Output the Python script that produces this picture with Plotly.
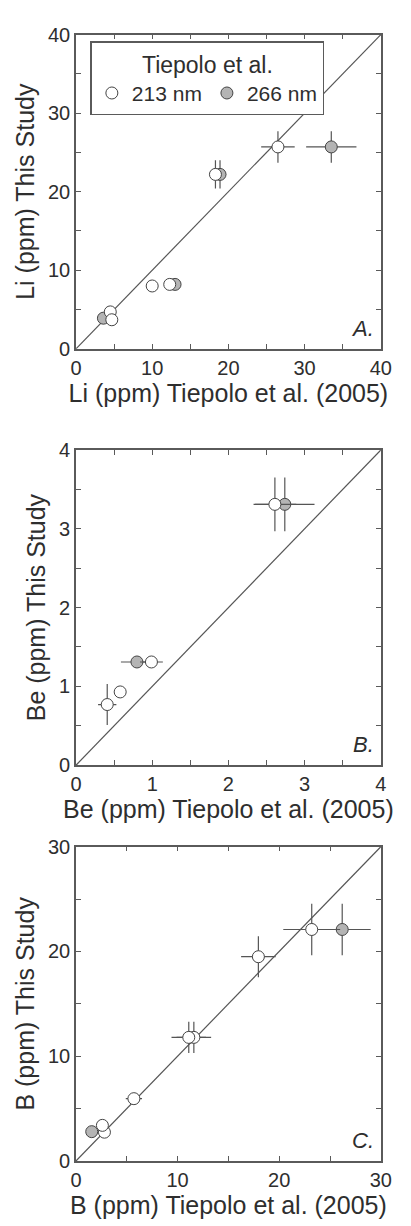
import plotly.graph_objects as go

# ---------------- data ----------------
# Panel A: Li (ppm)
li_213_x = [4.5, 4.7, 10.0, 12.3, 18.3, 26.5]
li_213_y = [4.7, 3.7, 8.0, 8.2, 22.2, 25.7]
li_213_ex = [0, 0, 0, 0, 0.8, 2.2]
li_213_ey = [0, 0, 0, 0, 1.8, 2.0]
li_266_x = [3.6, 13.0, 18.9, 33.5]
li_266_y = [3.9, 8.2, 22.2, 25.7]
li_266_ex = [0, 0, 0.8, 3.3]
li_266_ey = [0, 0, 1.8, 2.0]

# Panel B: Be (ppm)
be_213_x = [0.41, 0.58, 0.99, 2.61]
be_213_y = [0.77, 0.93, 1.31, 3.31]
be_213_ex = [0.12, 0, 0.15, 0.28]
be_213_ey = [0.26, 0, 0, 0.34]
be_266_x = [0.80, 2.74]
be_266_y = [1.31, 3.31]
be_266_ex = [0.21, 0.39]
be_266_ey = [0, 0.34]

# Panel C: B (ppm)
b_213_x = [2.8, 2.6, 5.7, 11.6, 11.1, 17.95, 23.2]
b_213_y = [2.75, 3.4, 5.95, 11.8, 11.8, 19.5, 22.1]
b_213_ex = [0, 0, 0.8, 1.7, 1.7, 1.7, 2.8]
b_213_ey = [0, 0, 0, 1.5, 1.5, 1.95, 2.45]
b_266_x = [1.55, 26.2]
b_266_y = [2.8, 22.1]
b_266_ex = [0, 2.8]
b_266_ey = [0, 2.45]

panels = [
    ("Li", 40, 10, 5, "A.", li_213_x, li_213_y, li_213_ex, li_213_ey,
     li_266_x, li_266_y, li_266_ex, li_266_ey),
    ("Be", 4, 1, 0.5, "B.", be_213_x, be_213_y, be_213_ex, be_213_ey,
     be_266_x, be_266_y, be_266_ex, be_266_ey),
    ("B", 30, 10, 5, "C.", b_213_x, b_213_y, b_213_ex, b_213_ey,
     b_266_x, b_266_y, b_266_ex, b_266_ey),
]
legend_labels = ["213 nm", "266 nm"]
legend_title = "Tiepolo et al."

# ---------------- style ----------------
W, H = 411, 1226
FONT = "Liberation Sans, Arial, Helvetica, sans-serif"
TXT = "#2e2e2e"
AX = "#5a5a5a"
ERR = "#555555"
EDGE = "#444444"
GRAY = "#b4b4b4"
MS = 12

# pixel boxes (top, bottom) for each panel; x from 73 to 391
xl, xr = 73, 391
boxes = [(24, 344), (447, 768), (851, 1171)]

fig = go.Figure()
layout = dict(
    width=W, height=H, margin=dict(l=0, r=0, t=0, b=0),
    paper_bgcolor="white", plot_bgcolor="white",
    font=dict(family=FONT, color=TXT, size=20),
    showlegend=True,
)
annotations = []

for i, (el, vmax, dt, mdt, tag, ox, oy, oex, oey, gx, gy, gex, gey) in enumerate(panels):
    n = "" if i == 0 else str(i + 1)
    xa, ya = "x" + n, "y" + n
    top, bot = boxes[i]
    ydom = [1 - bot / H, 1 - top / H]
    xdom = [xl / W, xr / W]
    axis_common = dict(
        range=[0, vmax], dtick=dt, showline=True, linecolor=AX, linewidth=1.5,
        mirror="ticks", ticks="inside", ticklen=5, tickwidth=1.2, tickcolor=AX,
        minor=dict(dtick=mdt, ticks="inside", ticklen=5, tickwidth=1.2, tickcolor=AX),
        showgrid=False, zeroline=False, tickfont=dict(size=20, color=TXT),
        fixedrange=True,
    )
    layout["xaxis" + n] = dict(axis_common, domain=xdom, anchor=ya,
                               title=dict(text=f"{el} (ppm) Tiepolo et al. (2005)",
                                          font=dict(size=25), standoff=4))
    layout["yaxis" + n] = dict(axis_common, domain=ydom, anchor=xa,
                               title=dict(text=f"{el} (ppm) This Study",
                                          font=dict(size=25), standoff=6))
    # 1:1 line
    fig.add_trace(go.Scatter(x=[0, vmax], y=[0, vmax], mode="lines",
                             line=dict(color=ERR, width=1.2), xaxis=xa, yaxis=ya,
                             showlegend=False, hoverinfo="skip"))
    # 266 nm (gray)
    fig.add_trace(go.Scatter(
        x=gx, y=gy, mode="markers", xaxis=xa, yaxis=ya,
        name=legend_labels[1], legendgroup="266", showlegend=(i == 0), legendrank=2,
        marker=dict(size=MS, color=GRAY, line=dict(color=EDGE, width=1)),
        error_x=dict(type="data", array=gex, width=0, color=ERR, thickness=1.2),
        error_y=dict(type="data", array=gey, width=0, color=ERR, thickness=1.2),
    ))
    # 213 nm (open)
    fig.add_trace(go.Scatter(
        x=ox, y=oy, mode="markers", xaxis=xa, yaxis=ya,
        name=legend_labels[0], legendgroup="213", showlegend=(i == 0), legendrank=1,
        marker=dict(size=MS, color="white", line=dict(color=EDGE, width=1)),
        error_x=dict(type="data", array=oex, width=0, color=ERR, thickness=1.2),
        error_y=dict(type="data", array=oey, width=0, color=ERR, thickness=1.2),
    ))
    annotations.append(dict(
        text=f"<i>{tag}</i>", xref=xa + " domain", yref=ya + " domain",
        x=0.985, y=0.02, xanchor="right", yanchor="bottom", showarrow=False,
        font=dict(size=22, color=TXT)))

layout["legend"] = dict(
    x=88 / W, y=1 - 31 / H, xanchor="left", yanchor="top",
    orientation="h", bgcolor="white", bordercolor=AX, borderwidth=1.5,
    font=dict(size=21, color=TXT, family=FONT), traceorder="normal",
    title=dict(text=legend_title, side="top center", font=dict(size=23, family=FONT)),
    itemwidth=30,
)
layout["annotations"] = annotations
fig.update_layout(**layout)
fig.write_html("out.html")
